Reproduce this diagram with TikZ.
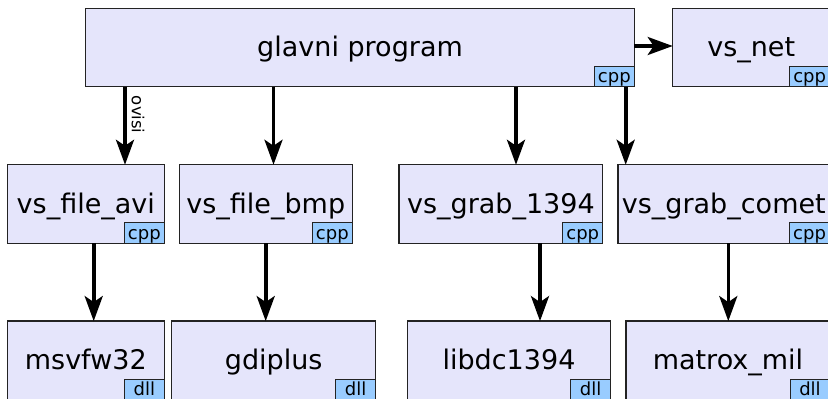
\documentclass[tikz,border=0pt]{standalone}
\usepackage{fontspec}
\setmainfont{DejaVu Sans}
\usetikzlibrary{arrows.meta}
\definecolor{boxfill}{RGB}{229,229,251}
\definecolor{tagfill}{RGB}{153,204,255}
\definecolor{edge}{RGB}{35,35,35}
\tikzset{
  box/.style={draw=edge, fill=boxfill, line width=1.3pt, inner sep=0pt, outer sep=0pt,
    text height=18pt, text depth=0pt,
    font=\fontsize{27}{32}\selectfont},
  tagbox/.style={draw=edge, fill=tagfill, line width=1pt, inner sep=0pt, outer sep=0pt,
    minimum width=40pt, minimum height=20.5pt, anchor=south east,
    text height=16pt, text depth=3.5pt,
    font=\fontsize{18}{20}\selectfont},
  arr/.style={line width=3.6pt, -{Stealth[length=25pt,width=18pt,inset=6pt]}},
}
\begin{document}
\begin{tikzpicture}[x=1pt,y=-1pt]
\useasboundingbox (0,0) rectangle (828,399);
\clip (0,0) rectangle (828,399);
% row 1
\node[box, minimum width=548.6pt, minimum height=78.4pt] (main) at (360,47.5) {glavni program};
\node[tagbox] (maintag) at (main.south east) {cpp};
\node[box, minimum width=157pt, minimum height=78.4pt] (net) at (751.2,47.5) {vs\_net};
\node[tagbox] (nettag) at (net.south east) {cpp};
% row 2
\node[box, minimum width=157pt, minimum height=78.4pt] (avi) at (85.8,204) {vs\_file\_avi};
\node[tagbox] (avitag) at (avi.south east) {cpp};
\node[box, minimum width=173pt, minimum height=78.4pt] (bmp) at (265.8,204) {vs\_file\_bmp};
\node[tagbox] (bmptag) at (bmp.south east) {cpp};
\node[box, minimum width=203.7pt, minimum height=78.4pt] (g1394) at (500.9,204) {vs\_grab\_1394};
\node[tagbox] (g1394tag) at (g1394.south east) {cpp};
\node[box, minimum width=211.5pt, minimum height=78.4pt] (comet) at (723.8,204) {vs\_grab\_comet};
\node[tagbox] (comettag) at (comet.south east) {cpp};
% row 3
\node[box, minimum width=157pt, minimum height=78.4pt] (msv) at (85.8,360.3) {msvfw32};
\node[tagbox] (msvtag) at (msv.south east) {dll};
\node[box, minimum width=204pt, minimum height=78.4pt] (gdi) at (273.7,360.3) {gdiplus};
\node[tagbox] (gditag) at (gdi.south east) {dll};
\node[box, minimum width=203.4pt, minimum height=78.4pt] (libdc) at (509,360.3) {libdc1394};
\node[tagbox] (libdctag) at (libdc.south east) {dll};
\node[box, minimum width=204pt, minimum height=78.4pt] (mil) at (728,360.3) {matrox\_mil};
\node[tagbox] (miltag) at (mil.south east) {dll};
% arrow columns
\coordinate (c1) at (125,0);
\coordinate (c2) at (273.5,0);
\coordinate (c3) at (516,0);
\coordinate (c4) at (625.7,0);
\coordinate (d1) at (93.7,0);
\coordinate (d2) at (265.7,0);
\coordinate (d3) at (540,0);
\coordinate (d4) at (728.3,0);
\coordinate (h) at (0,46);
% arrows
\draw[arr] (c1 |- main.south) -- (c1 |- avi.north)
  node[midway, xshift=13pt, yshift=11pt, rotate=-90, inner sep=0pt, font=\fontsize{16.5}{18}\selectfont] (lbl) {ovisi};
\draw[arr] (c2 |- main.south) -- (c2 |- bmp.north);
\draw[arr] (c3 |- main.south) -- (c3 |- g1394.north);
\draw[arr] (c4 |- maintag.south) -- (c4 |- comet.north);
\draw[arr] (main.east |- h) -- (net.west |- h);
\draw[arr] (d1 |- avi.south) -- (d1 |- msv.north);
\draw[arr] (d2 |- bmp.south) -- (d2 |- gdi.north);
\draw[arr] (d3 |- g1394.south) -- (d3 |- libdc.north);
\draw[arr] (d4 |- comet.south) -- (d4 |- mil.north);
\end{tikzpicture}
\end{document}
